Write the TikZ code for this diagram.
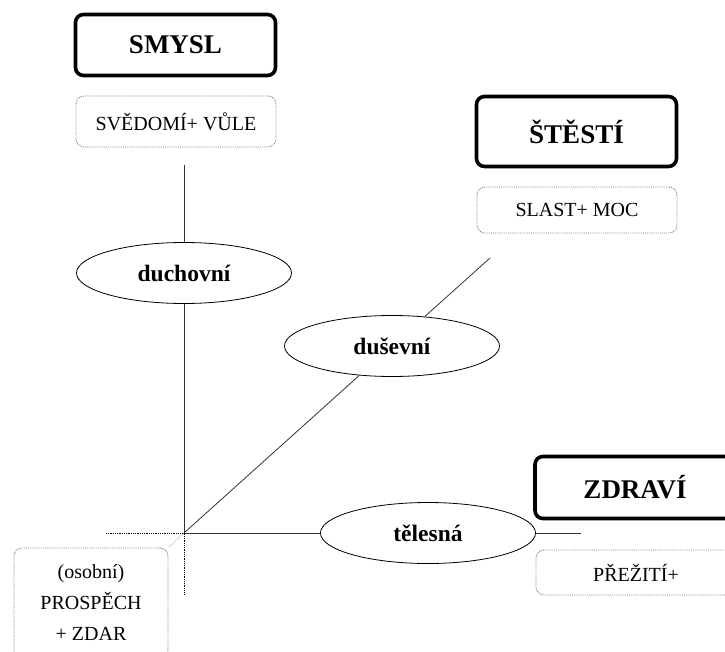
\documentclass[tikz,border=0pt]{standalone}
\usepackage{fontspec}
\setmainfont{Liberation Serif}
\usetikzlibrary{shapes.geometric}
\newcommand{\bigbold}{\fontsize{27}{32}\selectfont\bfseries}
\newcommand{\midbold}{\fontsize{23.5}{28}\selectfont\bfseries}
\newcommand{\plaintext}{\fontsize{20}{31}\selectfont}

\begin{document}
\begin{tikzpicture}[x=1pt,y=-1pt,
  title/.style={draw=black,line width=3.6pt,rounded corners=8pt,minimum width=200pt,inner sep=0pt,font=\bigbold},
  sub/.style={draw=gray,densely dotted,line width=0.9pt,rounded corners=8pt,minimum width=200pt,inner sep=0pt,font=\plaintext},
  level/.style={draw=black,ellipse,fill=white,line width=0.8pt,minimum width=215pt,minimum height=61pt,inner sep=0pt,font=\midbold}]
\useasboundingbox (0,0) rectangle (725,652);
\clip (0,0) rectangle (725,652);

\coordinate (o) at (184,533);
\coordinate (topend) at (184,165);
\coordinate (diagend) at (490,258);
\coordinate (rightend) at (581,533);
\coordinate (leftdot) at (106,533);
\coordinate (downdot) at (184,594);

% upper left
\node[title,minimum height=61pt] (smysl) at (175.5,45) {SMYSL};
\node[sub,minimum height=51pt] (svedomi) at (176,121.5) {SVĚDOMÍ+ VŮLE};
% upper right
\node[title,minimum height=70pt] (stesti) at (576.5,131.5) {ŠTĚSTÍ};
\node[sub,minimum height=46pt] (slast) at (577,210) {SLAST+ MOC};
% lower right
\node[title,minimum height=62pt] (zdravi) at (635,487.5) {ZDRAVÍ};
\node[sub,minimum height=45pt] (preziti) at (636,572.5) {PŘEŽITÍ+};
% lower left
\node[sub,minimum width=154pt,minimum height=110pt,align=center] (prospech) at (91,603) {(osobní)\\PROSPĚCH\\+ ZDAR};

\node[level] (duchovni) at (184,273) {duchovní};
\node[level] (dusevni) at (392,346) {duševní};
\node[level] (telesna) at (428,533) {tělesná};

\draw[line width=0.8pt,black!80] (o) -- (duchovni) -- (topend);
\draw[line width=0.8pt,black!80] (o) -- (dusevni) -- (diagend);
\draw[line width=0.8pt,black!80] (o) -- (telesna) -- (rightend);
\draw[densely dotted,line width=0.8pt] (leftdot) -- (o) -- (downdot);
\draw[densely dotted,line width=0.8pt,gray!60] (o) -- (prospech.north east);
\end{tikzpicture}
\end{document}
